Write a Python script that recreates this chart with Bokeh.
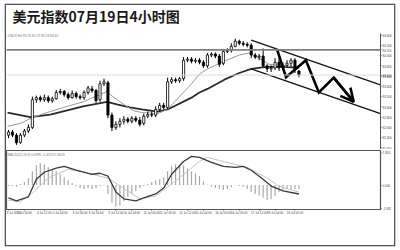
from bokeh.plotting import figure
from bokeh.layouts import column
from bokeh.models import (Range1d, FixedTicker, PrintfTickFormatter, Label,
                          Span, Arrow, OpenHead)
from bokeh.embed import file_html
from bokeh.resources import INLINE

# ---- USDX 4-hour bars -------------------------------------------------------
bar = list(range(74))
opens = [82.45, 82.51, 82.45, 82.31, 82.45, 82.53, 82.60, 83.14, 83.18, 83.14,
         83.18, 83.12, 83.16, 83.28, 83.30, 83.24, 83.18, 83.26, 83.20, 83.18,
         83.28, 83.35, 83.32, 83.14, 83.45, 83.47, 82.84, 82.60, 82.66, 82.72,
         82.76, 82.72, 82.78, 82.74, 82.68, 82.82, 82.85, 82.84, 82.95, 83.03,
         82.99, 83.49, 83.53, 83.51, 83.55, 83.91, 83.93, 83.89, 83.91, 83.87,
         83.80, 84.01, 84.03, 83.99, 83.85, 84.08, 84.10, 84.18, 84.28, 84.24,
         84.22, 84.20, 84.01, 83.97, 83.99, 83.80, 83.74, 83.76, 83.87, 83.76,
         83.81, 83.85, 83.91, 83.70]
closes = [82.51, 82.45, 82.30, 82.45, 82.53, 82.60, 83.14, 83.18, 83.14, 83.18,
          83.12, 83.16, 83.28, 83.30, 83.24, 83.18, 83.26, 83.20, 83.18, 83.28,
          83.37, 83.32, 83.12, 83.45, 83.49, 82.84, 82.60, 82.66, 82.72, 82.76,
          82.72, 82.78, 82.74, 82.66, 82.82, 82.85, 82.84, 82.95, 83.03, 82.99,
          83.49, 83.53, 83.51, 83.55, 83.91, 83.93, 83.89, 83.91, 83.87, 83.80,
          84.01, 84.03, 83.99, 83.83, 84.08, 84.10, 84.18, 84.28, 84.24, 84.22,
          84.20, 84.01, 83.97, 83.99, 83.80, 83.74, 83.76, 83.87, 83.76, 83.81,
          83.85, 83.91, 83.72, 83.62]
highs = [82.55, 82.55, 82.49, 82.49, 82.57, 82.66, 83.20, 83.22, 83.22, 83.24,
         83.22, 83.20, 83.33, 83.35, 83.33, 83.28, 83.32, 83.30, 83.24, 83.32,
         83.41, 83.41, 83.35, 83.51, 83.55, 83.51, 82.89, 82.72, 82.78, 82.82,
         82.80, 82.82, 82.82, 82.80, 82.87, 82.91, 82.91, 83.01, 83.08, 83.08,
         83.57, 83.58, 83.57, 83.58, 83.97, 83.97, 83.97, 83.95, 83.95, 83.91,
         84.05, 84.06, 84.06, 84.03, 84.12, 84.14, 84.24, 84.33, 84.31, 84.28,
         84.26, 84.24, 84.05, 84.03, 84.14, 83.83, 83.81, 83.95, 83.95, 83.87,
         83.91, 83.95, 83.95, 83.72]
lows = [82.39, 82.41, 82.26, 82.28, 82.41, 82.49, 82.57, 83.08, 83.10, 83.10,
        83.08, 83.08, 83.14, 83.24, 83.20, 83.14, 83.16, 83.16, 83.14, 83.14,
        83.24, 83.28, 83.08, 83.10, 83.41, 82.78, 82.53, 82.55, 82.60, 82.66,
        82.68, 82.68, 82.70, 82.62, 82.64, 82.78, 82.80, 82.80, 82.91, 82.95,
        82.95, 83.45, 83.47, 83.47, 83.51, 83.87, 83.85, 83.85, 83.83, 83.76,
        83.76, 83.97, 83.95, 83.78, 83.81, 84.05, 84.06, 84.16, 84.20, 84.18,
        84.16, 83.95, 83.93, 83.91, 83.78, 83.68, 83.68, 83.72, 83.70, 83.72,
        83.78, 83.78, 83.66, 83.58]

# moving averages (fast = thin grey, slow = thick dark)
ma_fast_x = [-0.25, 3, 6.25, 10.5, 14.75, 18.75, 23, 24.75, 26.25, 28, 31.25,
             33.5, 37.5, 40, 41.75, 46, 48, 50, 54.25, 58, 60.5, 63, 65.5,
             69.25, 73]
ma_fast_y = [82.62, 82.68, 82.80, 82.91, 83.01, 83.10, 83.24, 83.30, 83.20,
             83.10, 82.93, 82.89, 82.87, 82.95, 83.10, 83.45, 83.64, 83.74,
             83.89, 84.01, 84.05, 83.95, 83.83, 83.80, 83.78]
ma_slow_x = [-0.25, 5.5, 10.5, 18.75, 24.75, 27.25, 30.5, 33.5, 37.5, 40, 46,
             48, 50, 54.25, 58, 61, 64.75, 69.25, 73]
ma_slow_y = [82.89, 82.80, 82.85, 83.01, 83.10, 83.05, 82.99, 82.95, 82.91,
             82.95, 83.18, 83.28, 83.35, 83.53, 83.66, 83.74, 83.78, 83.78,
             83.76]

# descending channel and projected path
channel_x = [61, 93.5]
channel_upper = [84.30, 83.43]
channel_lower = [83.74, 82.87]
path_x = [67.5, 69.75, 74.75, 78, 81.75, 86.75]
path_y = [84.12, 83.58, 83.91, 83.28, 83.57, 83.10]

level_price = 84.11
bid_price = 83.62
price_ticks = [84.4, 84.2, 84.0, 83.8, 83.6, 83.4, 83.2, 83.0, 82.8, 82.6,
               82.4, 82.2]
price_low, price_high = 82.17, 84.43

# ---- MACD ------------------------------------------------------------------
hist = [-0.06, -0.06, -0.10, 0.06, 0.18, 0.41, 0.82, 1.17, 1.29, 1.23,
        1.05, 0.94, 0.82, 0.64, 0.47, 0.29, 0.12, -0.06, -0.18, -0.23,
        -0.18, -0.23, -0.18, -0.06, -0.03, -0.53, -1.05, -1.29, -1.23, -0.94,
        -0.70, -0.53, -0.35, -0.18, -0.06, 0.06, 0.18, 0.29, 0.35, 0.47,
        0.82, 1.11, 1.23, 1.17, 1.17, 1.00, 0.82, 0.70, 0.53, 0.23,
        0.02, -0.10, -0.18, -0.23, -0.29, -0.23, -0.12, -0.02, -0.06, -0.10,
        -0.23, -0.41, -0.53, -0.64, -0.76, -0.88, -0.82, -0.64, -0.41, -0.29,
        -0.23, -0.23, -0.23, -0.23]
macd_x = [0, 2, 5, 7, 9, 12, 14, 17, 21, 23, 25, 27, 29, 32, 34, 37, 39, 41,
          44, 46, 48, 51, 54, 57, 59, 61, 64, 66, 69, 73]
macd_y = [-0.76, -0.94, -0.70, 0.35, 0.76, 1.00, 1.11, 0.88, 0.64, 0.70, 0.53,
          -0.41, -0.82, -0.94, -0.76, -0.53, -0.18, 0.64, 1.40, 1.70, 1.64,
          1.35, 1.11, 1.05, 1.11, 0.88, 0.35, -0.06, -0.35, -0.53]
signal_x = [0, 3, 6, 10, 15, 19, 25, 30, 33, 37, 41, 45, 48, 50, 53, 57, 60,
            65, 68, 71, 73]
signal_y = [-0.90, -1.00, -0.47, 0.41, 0.94, 0.76, 0.41, -0.35, -0.82, -0.64,
            0.06, 0.82, 1.40, 1.64, 1.46, 1.23, 1.05, 0.41, -0.06, -0.29, -0.41]
macd_ticks = [1.924, 0.0, -1.392]

date_ticks = [0, 4, 9, 13, 18, 22, 27, 31, 36, 40, 45, 49, 54, 58, 63, 67, 72]
date_labels = ["3 Jul 2013", "3 Jul 16:00", "4 Jul 12:00", "5 Jul 04:00",
               "8 Jul 00:00", "8 Jul 16:00", "9 Jul 12:00", "10 Jul 04:00",
               "11 Jul 00:00", "11 Jul 16:00", "12 Jul 12:00", "15 Jul 04:00",
               "16 Jul 00:00", "16 Jul 16:00", "17 Jul 12:00", "18 Jul 04:00",
               "19 Jul 00:00"]

FRAME = "#555555"
x_range = Range1d(-0.5, 93.5)

# price panel: 144 px tall, price scale occupies its lower 116 px,
# the strip above holds the heading
P1_H, SCALE_H = 144, 116
price_top_of_frame = price_high + (price_high - price_low) * (P1_H - SCALE_H) / SCALE_H


def style_right_axis(axis, ticks, fmt):
    axis.ticker = FixedTicker(ticks=ticks)
    axis.formatter = PrintfTickFormatter(format=fmt)
    axis.major_label_text_font_size = "3px"
    axis.major_label_text_font = "Liberation Sans"
    axis.major_label_text_color = "#444444"
    axis.major_label_standoff = 1
    axis.major_tick_out = 1
    axis.major_tick_in = 0
    axis.minor_tick_out = 0
    axis.minor_tick_in = 0
    axis.axis_line_color = FRAME
    axis.major_tick_line_color = FRAME


# ---- price panel -----------------------------------------------------------
p1 = figure(width=388, height=P1_H, x_range=x_range,
            y_range=Range1d(price_low, price_top_of_frame),
            output_backend="svg", toolbar_location=None,
            x_axis_location=None, y_axis_location="right",
            min_border_left=0, min_border_right=12, min_border_top=0,
            min_border_bottom=0)
p1.outline_line_color = None
p1.xgrid.visible = False
p1.ygrid.visible = False

style_right_axis(p1.yaxis[0], price_ticks + [level_price, bid_price], "%.3f")
p1.yaxis[0].bounds = (price_low, price_high)
p1.yaxis[0].major_label_overrides = {level_price: "84.110",
                                     bid_price: "83.620"}

p1.add_layout(Span(location=bid_price, dimension="width",
                   line_color="#dcdcdc", line_width=1))
p1.add_layout(Span(location=level_price, dimension="width",
                   line_color="#808080", line_width=1.6))

p1.line(ma_slow_x, ma_slow_y, line_color="#2b2b2b", line_width=1.8)
p1.line(ma_fast_x, ma_fast_y, line_color="#9a9a9a", line_width=1)

body_top = [max(o, c) for o, c in zip(opens, closes)]
body_bottom = [min(o, c) for o, c in zip(opens, closes)]
body_fill = ["white" if c >= o else "black" for o, c in zip(opens, closes)]
p1.segment(x0=bar, y0=lows, x1=bar, y1=highs, line_color="black",
           line_width=1)
p1.vbar(x=bar, width=0.55, top=body_top, bottom=body_bottom,
        fill_color=body_fill, line_color="black", line_width=0.8)

p1.line(channel_x, channel_upper, line_color="#111111", line_width=1.2)
p1.line(channel_x, channel_lower, line_color="#111111", line_width=1.2)
p1.line(path_x, path_y, line_color="black", line_width=2.6,
        line_join="miter")
p1.add_layout(Arrow(end=OpenHead(size=13, line_width=2.6, line_color="black"),
                    x_start=path_x[-2], y_start=path_y[-2],
                    x_end=path_x[-1], y_end=path_y[-1],
                    line_color="black", line_width=2.6))

p1.add_layout(Label(x=6, y=10, x_units="canvas", y_units="canvas",
                    text="美元指数07月19日4小时图", text_font="Noto Sans CJK SC",
                    text_font_style="bold", text_font_size="14px",
                    text_color="#1a1a1a", text_baseline="middle"))
p1.add_layout(Label(x=1, y=30, x_units="canvas", y_units="canvas",
                    text="USDX,H4  83.70 83.72 83.58 83.62",
                    text_font="Liberation Sans", text_font_size="3.3px",
                    text_color="#777777", text_baseline="middle"))

# ---- MACD panel -------------------------------------------------------------
p2 = figure(width=388, height=96, x_range=x_range,
            y_range=Range1d(-1.45, 2.05), output_backend="svg",
            toolbar_location=None, y_axis_location="right",
            min_border_left=0, min_border_right=12, min_border_top=1,
            min_border_bottom=36)
p2.outline_line_color = FRAME
p2.outline_line_width = 1.2
p2.xgrid.visible = False
p2.ygrid.visible = False

style_right_axis(p2.yaxis[0], macd_ticks, "%.3f")

axx = p2.xaxis[0]
axx.ticker = FixedTicker(ticks=date_ticks)
axx.major_label_overrides = dict(zip(date_ticks, date_labels))
axx.major_label_text_font_size = "3px"
axx.major_label_text_font = "Liberation Sans"
axx.major_label_text_color = "#444444"
axx.major_label_text_align = "left"
axx.major_label_standoff = 1
axx.major_tick_out = 1
axx.major_tick_in = 0
axx.minor_tick_out = 0
axx.minor_tick_in = 0
axx.axis_line_color = FRAME
axx.major_tick_line_color = FRAME

p2.vbar(x=bar, width=0.3, top=hist, bottom=0, fill_color="#a8a8a8",
        line_color=None)
p2.line(signal_x, signal_y, line_color="#c4c4c4", line_width=1)
p2.line(macd_x, macd_y, line_color="#3a3a3a", line_width=1.3)

p2.add_layout(Label(x=1, y=5, x_units="canvas", y_units="canvas",
                    text="MACD(12,26,9) 0.0985 -0.4129 0.3618",
                    text_font="Liberation Sans", text_font_size="3.3px",
                    text_color="#777777", text_baseline="middle"))

# outer window frame drawn around both panels
layout = column(p1, p2, spacing=0, margin=(5, 6, 5, 6),
                styles={"box-shadow": "0 0 0 1.3px #555555"})
open("out.html", "w").write(file_html(layout, INLINE))
